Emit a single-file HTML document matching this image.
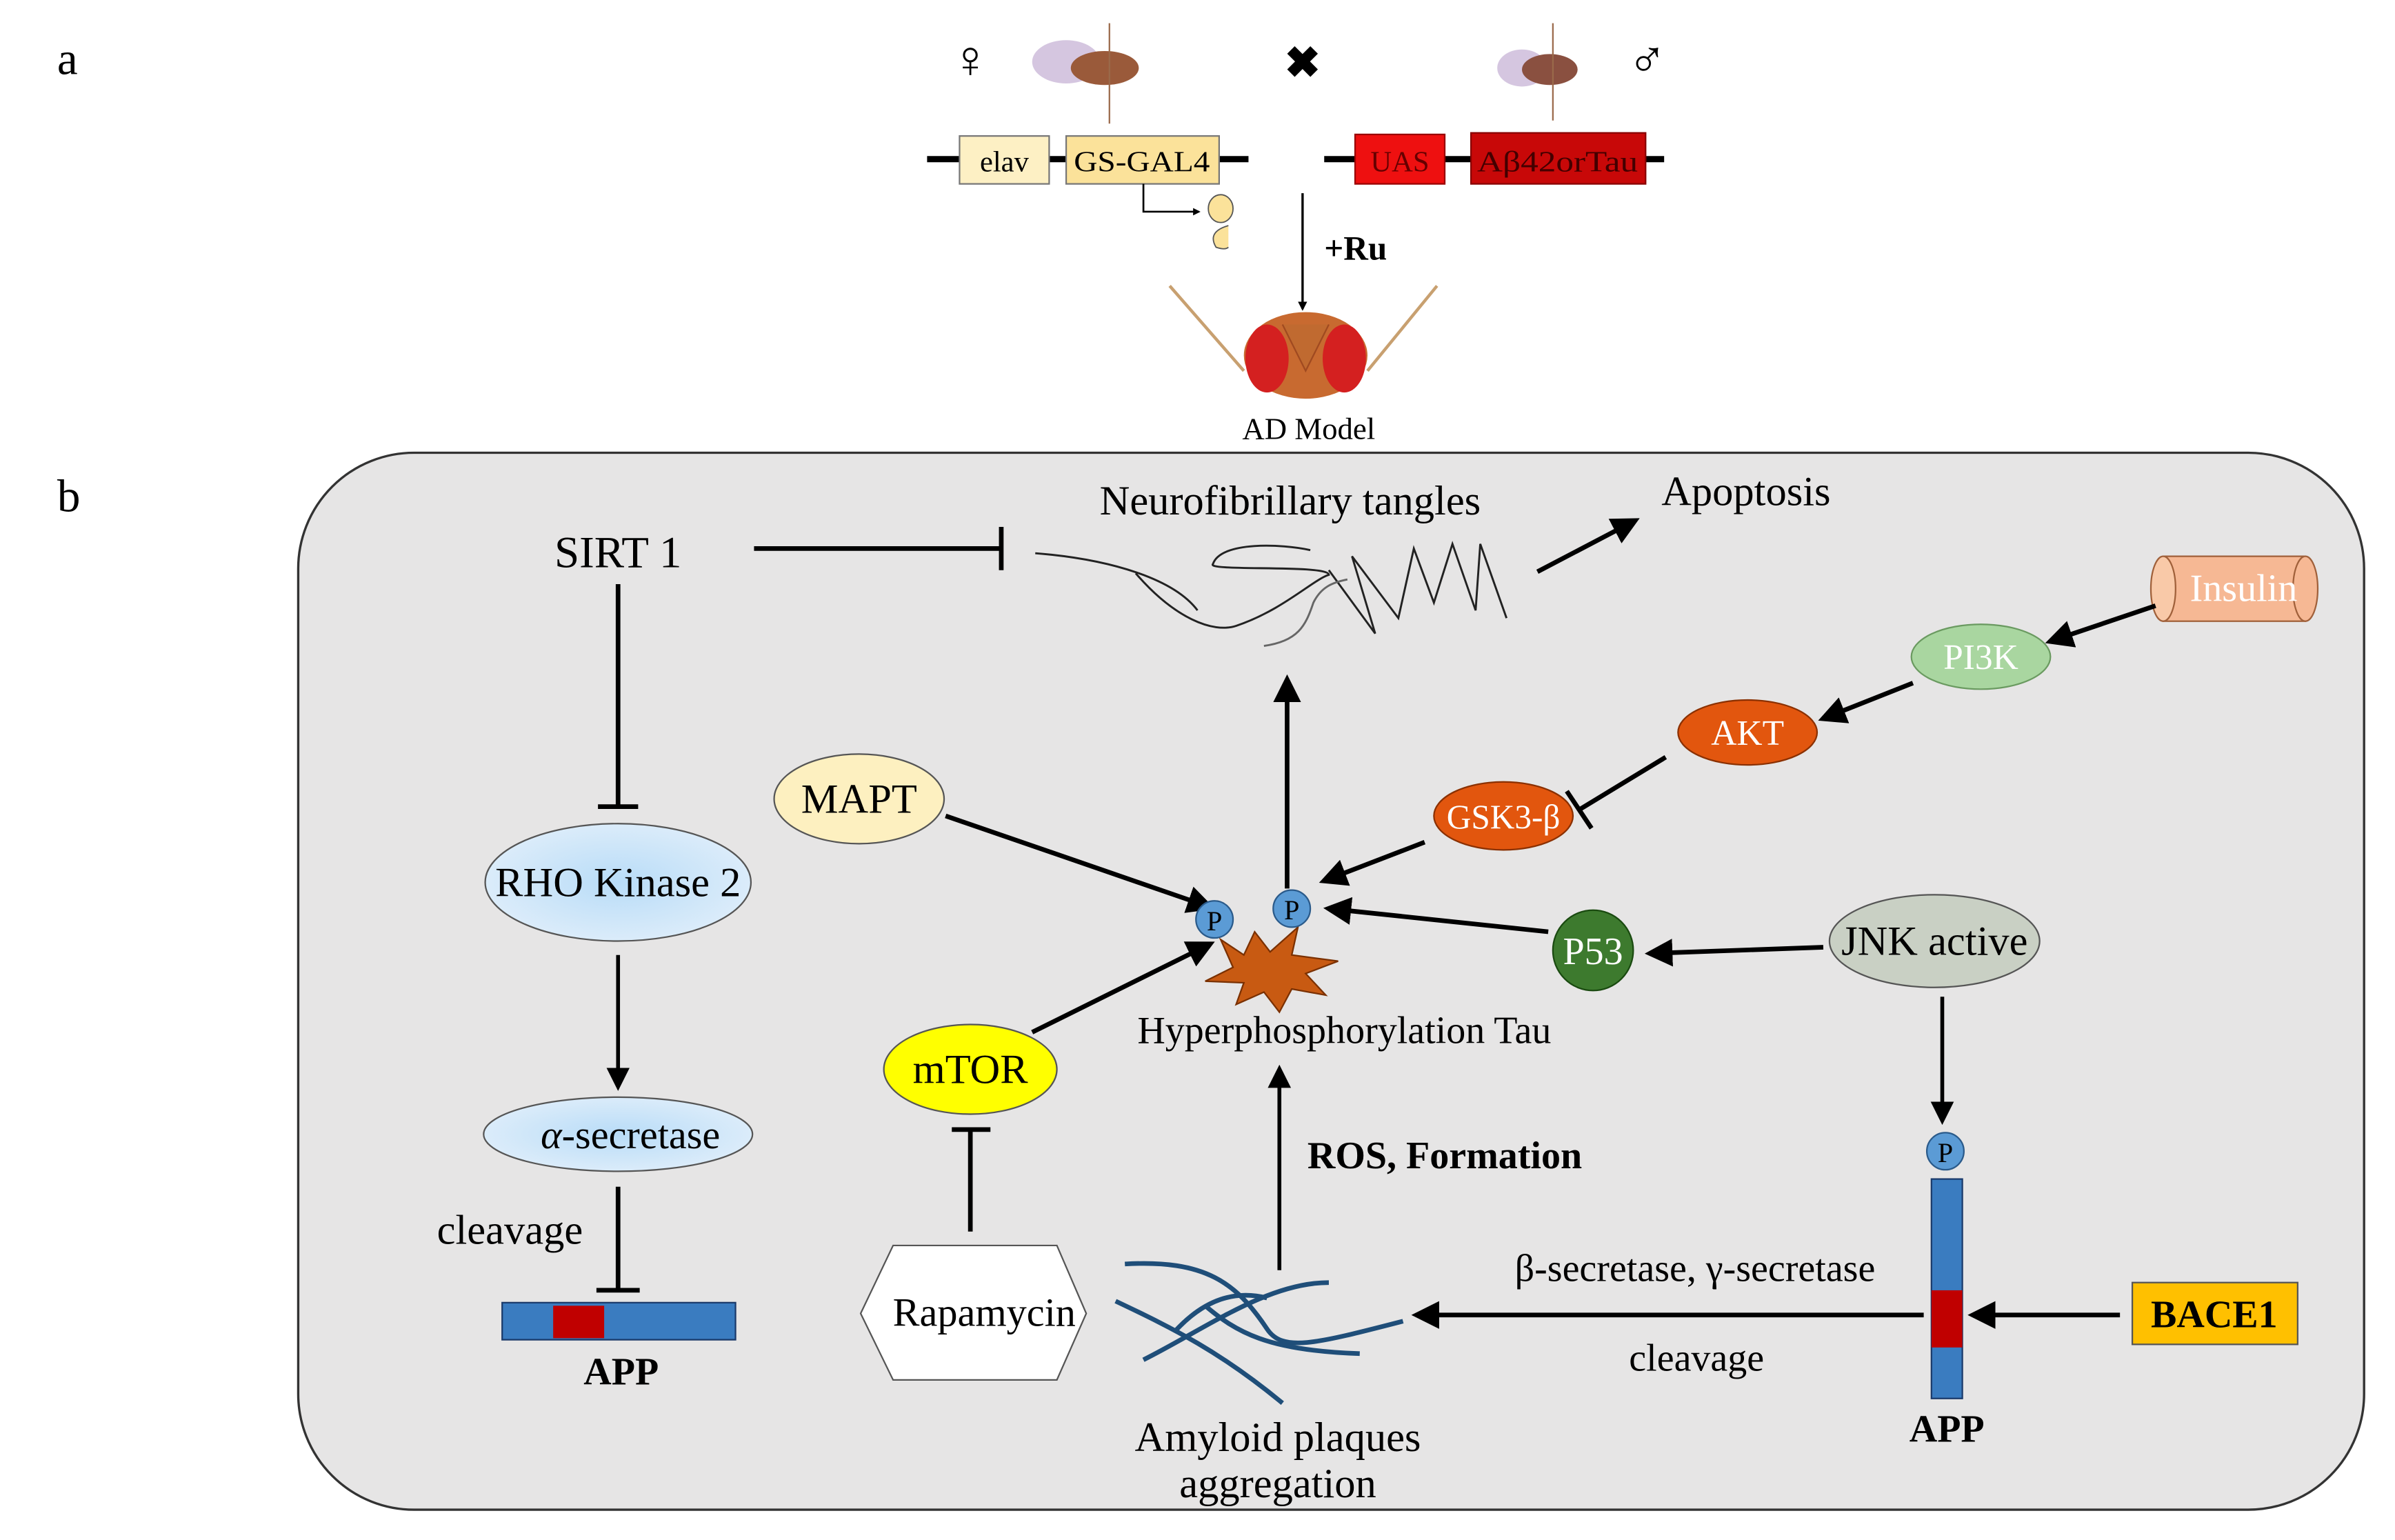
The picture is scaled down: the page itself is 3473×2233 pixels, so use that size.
<!DOCTYPE html>
<html><head><meta charset="utf-8"><style>
html,body{margin:0;padding:0;background:#fff;}
svg{display:block;}
text{font-family:"Liberation Serif","DejaVu Serif",serif;}
</style></head><body>
<svg width="3473" height="2233" viewBox="0 0 1550 996.6" preserveAspectRatio="none" xmlns="http://www.w3.org/2000/svg">
<defs>
<marker id="ah" viewBox="0 0 10 10" refX="8" refY="5" markerWidth="4" markerHeight="4" orient="auto-start-reverse"><path d="M0,0 L10,5 L0,10 z" fill="#000"/></marker>
<marker id="ahs" viewBox="0 0 10 10" refX="8" refY="5" markerWidth="6" markerHeight="6" orient="auto"><path d="M0,0 L10,5 L0,10 z" fill="#000"/></marker>
<radialGradient id="rg" cx="50%" cy="50%" r="60%"><stop offset="0" stop-color="#b8dcf8"/><stop offset="1" stop-color="#e2effa"/></radialGradient>
</defs>
<text x="37" y="48" font-size="30">a</text>
<text x="37" y="331" font-size="30">b</text>
<!-- panel a -->
<text x="628" y="50" font-size="34" text-anchor="middle" font-family="DejaVu Sans">♀</text>
<ellipse cx="690" cy="40" rx="22" ry="14" fill="#cbb8d8" opacity="0.8"/>
<ellipse cx="715" cy="44" rx="22" ry="11" fill="#9a5a3a"/>
<line x1="718" y1="15" x2="718" y2="80" stroke="#9a6a4a" stroke-width="1"/>
<text x="843" y="50" font-size="28" text-anchor="middle" font-weight="bold" font-family="DejaVu Sans">✖</text>
<ellipse cx="985" cy="44" rx="16" ry="12" fill="#cbb8d8" opacity="0.8"/>
<ellipse cx="1003" cy="45" rx="18" ry="10" fill="#8a5040"/>
<line x1="1005" y1="15" x2="1005" y2="78" stroke="#9a6a4a" stroke-width="1"/>
<text x="1066" y="50" font-size="34" text-anchor="middle" font-family="DejaVu Sans">♂</text>
<line x1="600" y1="103" x2="808" y2="103" stroke="#000" stroke-width="4"/>
<rect x="621" y="88" width="58" height="31" fill="#fdf0c4" stroke="#777"/>
<text x="650" y="111" font-size="19" text-anchor="middle">elav</text>
<rect x="690" y="88" width="99" height="31" fill="#fbe29a" stroke="#777"/>
<text x="739" y="111" font-size="19" text-anchor="middle" textLength="88" lengthAdjust="spacingAndGlyphs">GS-GAL4</text>
<line x1="857" y1="103" x2="1077" y2="103" stroke="#000" stroke-width="4"/>
<rect x="877" y="87" width="58" height="32" fill="#ee1010" stroke="#900"/>
<text x="906" y="111" font-size="19" text-anchor="middle" fill="#600">UAS</text>
<rect x="952" y="86" width="113" height="33" fill="#c80808" stroke="#800"/>
<text x="1008" y="111" font-size="19" text-anchor="middle" fill="#400" textLength="104" lengthAdjust="spacingAndGlyphs">Aβ42orTau</text>
<polyline points="740,119 740,137 776,137" fill="none" stroke="#000" stroke-width="1.2" marker-end="url(#ah)"/>
<ellipse cx="790" cy="135" rx="8" ry="9" fill="#fbe29a" stroke="#555" stroke-width="0.8"/>
<path d="M795,146 q-14,4 -8,14 q6,2 8,0" fill="#fbe29a" stroke="#555" stroke-width="0.8"/>
<line x1="843" y1="125" x2="843" y2="200" stroke="#000" stroke-width="1.5" marker-end="url(#ah)"/>
<text x="857" y="168" font-size="22" font-weight="bold">+Ru</text>
<path d="M757,185 L805,240 M930,185 L885,240" stroke="#c8a070" stroke-width="2" fill="none"/>
<ellipse cx="845" cy="230" rx="40" ry="28" fill="#c86a30"/>
<ellipse cx="820" cy="232" rx="14" ry="22" fill="#d42020"/>
<ellipse cx="870" cy="232" rx="14" ry="22" fill="#d42020"/>
<path d="M830,210 L845,240 L860,210" stroke="#a04a20" fill="#c06a30"/>
<text x="847" y="284" font-size="20" text-anchor="middle">AD Model</text>
<!-- panel b -->
<rect x="193" y="293" width="1337" height="684" rx="75" fill="#e6e5e5" stroke="#333" stroke-width="1.5"/>
<text x="835" y="333" font-size="27" text-anchor="middle">Neurofibrillary tangles</text>
<text x="1130" y="327" font-size="27" text-anchor="middle">Apoptosis</text>
<text x="400" y="367" font-size="29" text-anchor="middle">SIRT 1</text>
<line x1="488" y1="355" x2="648" y2="355" stroke="#000" stroke-width="3"/>
<line x1="648" y1="341" x2="648" y2="369" stroke="#000" stroke-width="3"/>
<g fill="none" stroke="#222" stroke-width="1.3">
<path d="M670,358 C720,362 760,375 775,395"/>
<path d="M735,371 C760,400 785,410 800,405 C830,395 850,375 860,372 C860,365 780,370 785,365 C790,350 830,352 848,356"/>
<path d="M860,369 L890,410 L875,360 L905,400 L915,355 L928,390 L940,352 L955,395 L958,352 L975,400"/>
<path d="M818,418 C840,415 845,405 850,390 C855,380 862,377 872,375" stroke="#666"/>
</g>
<line x1="995" y1="370" x2="1058" y2="337" stroke="#000" stroke-width="3" marker-end="url(#ahs)"/>
<!-- insulin -->
<rect x="1400" y="360" width="92" height="42" fill="#f6b894" stroke="#a0603a"/>
<ellipse cx="1492" cy="381" rx="8" ry="21" fill="#f6b894" stroke="#a0603a"/>
<ellipse cx="1400" cy="381" rx="8" ry="21" fill="#f9c9a8" stroke="#a0603a"/>
<text x="1452" y="389" font-size="25" text-anchor="middle" fill="#fff">Insulin</text>
<line x1="1395" y1="392" x2="1327" y2="415" stroke="#000" stroke-width="3" marker-end="url(#ahs)"/>
<ellipse cx="1282" cy="425" rx="45" ry="21" fill="#a9d6a0" stroke="#6a9a60"/>
<text x="1282" y="433" font-size="23" text-anchor="middle" fill="#fff">PI3K</text>
<line x1="1238" y1="442" x2="1180" y2="465" stroke="#000" stroke-width="3" marker-end="url(#ahs)"/>
<ellipse cx="1131" cy="474" rx="45" ry="21" fill="#e2560e" stroke="#8a3000"/>
<text x="1131" y="482" font-size="23" text-anchor="middle" fill="#fff">AKT</text>
<line x1="1078" y1="490" x2="1022" y2="524" stroke="#000" stroke-width="3"/>
<line x1="1014" y1="512" x2="1030" y2="536" stroke="#000" stroke-width="3"/>
<ellipse cx="973" cy="528" rx="45" ry="22" fill="#e2560e" stroke="#8a3000"/>
<text x="973" y="536" font-size="22" text-anchor="middle" fill="#fff">GSK3-β</text>
<line x1="922" y1="545" x2="857" y2="570" stroke="#000" stroke-width="3" marker-end="url(#ahs)"/>
<ellipse cx="556" cy="517" rx="55" ry="29" fill="#fdf0c0" stroke="#555"/>
<text x="556" y="526" font-size="27" text-anchor="middle">MAPT</text>
<line x1="612" y1="528" x2="783" y2="587" stroke="#000" stroke-width="3" marker-end="url(#ahs)"/>
<line x1="833" y1="575" x2="833" y2="440" stroke="#000" stroke-width="3" marker-end="url(#ahs)"/>
<polygon points="790,608 805,618 812,603 822,616 840,600 836,618 866,622 845,630 858,644 836,640 828,655 818,642 800,650 805,636 780,635 798,626" fill="#c85a12" stroke="#7a3000" stroke-width="1"/>
<circle cx="786" cy="595" r="12" fill="#5b9bd5" stroke="#2a5a8a"/>
<text x="786" y="602" font-size="18" text-anchor="middle">P</text>
<circle cx="836" cy="588" r="12" fill="#5b9bd5" stroke="#2a5a8a"/>
<text x="836" y="595" font-size="18" text-anchor="middle">P</text>
<text x="870" y="675" font-size="25" text-anchor="middle">Hyperphosphorylation  Tau</text>
<circle cx="1031" cy="615" r="26" fill="#3d7a2e" stroke="#1a4a10"/>
<text x="1031" y="624" font-size="25" text-anchor="middle" fill="#fff">P53</text>
<line x1="1002" y1="603" x2="860" y2="588" stroke="#000" stroke-width="3" marker-end="url(#ahs)"/>
<ellipse cx="1252" cy="609" rx="68" ry="30" fill="#c9d0c4" stroke="#555"/>
<text x="1252" y="618" font-size="27" text-anchor="middle">JNK active</text>
<line x1="1180" y1="613" x2="1068" y2="617" stroke="#000" stroke-width="3" marker-end="url(#ahs)"/>
<line x1="1257" y1="645" x2="1257" y2="725" stroke="#000" stroke-width="2.5" marker-end="url(#ahs)"/>
<circle cx="1259" cy="745" r="12" fill="#5b9bd5" stroke="#2a5a8a"/>
<text x="1259" y="752" font-size="18" text-anchor="middle">P</text>
<rect x="1250" y="763" width="20" height="142" fill="#3a7cc0" stroke="#1a3a6a"/>
<rect x="1250" y="835" width="20" height="37" fill="#c00000"/>
<text x="1260" y="933" font-size="25" font-weight="bold" text-anchor="middle">APP</text>
<rect x="1380" y="830" width="107" height="40" fill="#ffc000" stroke="#555"/>
<text x="1433" y="859" font-size="25" font-weight="bold" text-anchor="middle">BACE1</text>
<line x1="1372" y1="851" x2="1277" y2="851" stroke="#000" stroke-width="3" marker-end="url(#ahs)"/>
<line x1="1245" y1="851" x2="917" y2="851" stroke="#000" stroke-width="3" marker-end="url(#ahs)"/>
<text x="1097" y="829" font-size="25" text-anchor="middle">β-secretase, γ-secretase</text>
<text x="1098" y="887" font-size="25" text-anchor="middle">cleavage</text>
<g fill="none" stroke="#1f4e79" stroke-width="3">
<path d="M728,818 C780,815 800,830 820,860 C830,875 850,870 908,855"/>
<path d="M722,842 C760,860 790,875 830,908"/>
<path d="M740,880 C780,860 820,830 860,830"/>
<path d="M780,845 C800,862 820,874 880,876"/>
<path d="M760,862 C780,840 800,835 820,840"/>
</g>
<text x="827" y="939" font-size="27" text-anchor="middle">Amyloid plaques</text>
<text x="827" y="969" font-size="27" text-anchor="middle">aggregation</text>
<line x1="828" y1="822" x2="828" y2="692" stroke="#000" stroke-width="2.5" marker-end="url(#ahs)"/>
<text x="935" y="756" font-size="25" font-weight="bold" text-anchor="middle">ROS, Formation</text>
<ellipse cx="628" cy="692" rx="56" ry="29" fill="#ffff00" stroke="#555"/>
<text x="628" y="701" font-size="27" text-anchor="middle">mTOR</text>
<line x1="668" y1="668" x2="783" y2="611" stroke="#000" stroke-width="3" marker-end="url(#ahs)"/>
<line x1="628" y1="797" x2="628" y2="731" stroke="#000" stroke-width="3"/>
<line x1="616" y1="731" x2="641" y2="731" stroke="#000" stroke-width="3"/>
<polygon points="578,806 684,806 703,850 684,893 578,893 557,850" fill="#fff" stroke="#555"/>
<text x="637" y="858" font-size="26" text-anchor="middle">Rapamycin</text>
<line x1="400" y1="378" x2="400" y2="522" stroke="#000" stroke-width="3"/>
<line x1="387" y1="522" x2="413" y2="522" stroke="#000" stroke-width="3"/>
<ellipse cx="400" cy="571" rx="86" ry="38" fill="url(#rg)" stroke="#555"/>
<text x="400" y="580" font-size="27" text-anchor="middle">RHO Kinase 2</text>
<line x1="400" y1="618" x2="400" y2="703" stroke="#000" stroke-width="2.5" marker-end="url(#ahs)"/>
<ellipse cx="400" cy="734" rx="87" ry="24" fill="url(#rg)" stroke="#555"/>
<text x="408" y="743" font-size="26" text-anchor="middle"><tspan font-style="italic">α</tspan>-secretase</text>
<line x1="400" y1="768" x2="400" y2="835" stroke="#000" stroke-width="3"/>
<line x1="386" y1="835" x2="414" y2="835" stroke="#000" stroke-width="3"/>
<text x="330" y="805" font-size="27" text-anchor="middle">cleavage</text>
<rect x="325" y="843" width="151" height="24" fill="#3a7cc0" stroke="#1a3a6a"/>
<rect x="358" y="845" width="33" height="21" fill="#c00000"/>
<text x="402" y="896" font-size="25" font-weight="bold" text-anchor="middle">APP</text>
</svg>
</body></html>
